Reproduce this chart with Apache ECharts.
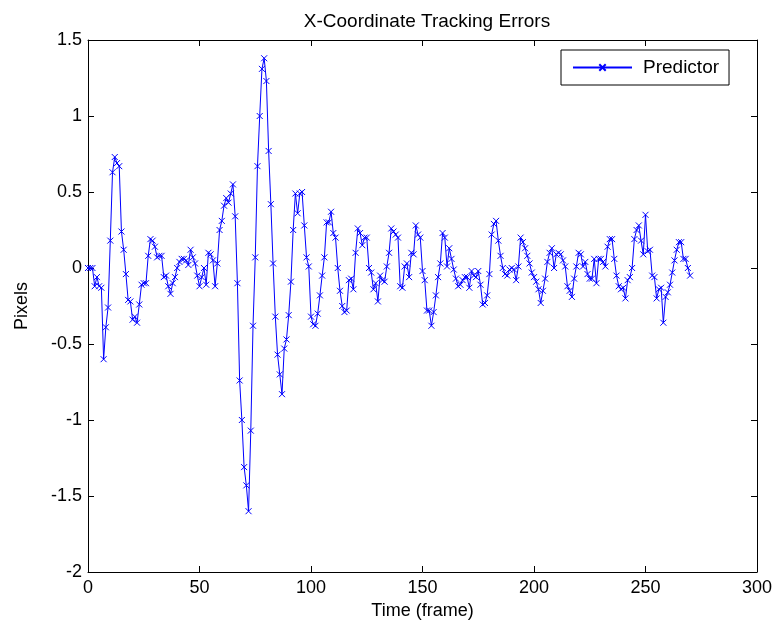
<!DOCTYPE html>
<html>
<head>
<meta charset="utf-8">
<script src="https://cdn.jsdelivr.net/npm/echarts@6/dist/echarts.min.js"></script>
<style>
html,body{margin:0;padding:0;background:#fff;}
#chart{width:781px;height:630px;}
</style>
</head>
<body>
<div id="chart"></div>
<script>
var titleText = "X-Coordinate Tracking Errors";
var xAxisName = "Time (frame)";
var yAxisName = "Pixels";
var seriesName = "Predictor";
var xTicks = [0, 50, 100, 150, 200, 250, 300];
var yTicks = [-2, -1.5, -1, -0.5, 0, 0.5, 1, 1.5];

// one value per frame, frames 0..270
var errors = [
  0, 0, 0, -0.12, -0.06, -0.12, -0.13, -0.6, -0.39, -0.26,
  0.18, 0.63, 0.73, 0.69, 0.67, 0.24, 0.12, -0.04, -0.21, -0.22,
  -0.34, -0.32, -0.36, -0.24, -0.11, -0.1, -0.1, 0.08, 0.19, 0.18,
  0.14, 0.07, 0.08, 0.08, -0.06, -0.05, -0.12, -0.17, -0.1, -0.06,
  0.0, 0.04, 0.06, 0.06, 0.05, 0.02, 0.12, 0.07, 0.03, -0.05,
  -0.12, -0.06, 0.0, -0.11, 0.1, 0.09, 0.05, -0.12, 0.03, 0.25,
  0.31, 0.41, 0.46, 0.43, 0.49, 0.55, 0.34, -0.1, -0.74, -1.0,
  -1.31, -1.43, -1.6, -1.07, -0.38, 0.07, 0.67, 1.0, 1.31, 1.38,
  1.23, 0.77, 0.42, 0.03, -0.32, -0.57, -0.7, -0.83, -0.53, -0.47,
  -0.31, -0.09, 0.25, 0.49, 0.36, 0.49, 0.5, 0.28, 0.07, 0.01,
  -0.32, -0.37, -0.38, -0.3, -0.18, -0.05, 0.07, 0.3, 0.3, 0.37,
  0.23, 0.2, 0.0, -0.15, -0.25, -0.29, -0.28, -0.08, -0.07, -0.14,
  0.1, 0.26, 0.23, 0.15, 0.2, 0.2, 0.0, -0.03, -0.14, -0.1,
  -0.22, -0.05, -0.08, -0.09, 0.01, 0.1, 0.26, 0.24, 0.22, 0.2,
  -0.12, -0.13, 0.01, 0.03, -0.06, 0.1, 0.09, 0.28, 0.22, 0.2,
  -0.02, -0.08, -0.28, -0.28, -0.38, -0.29, -0.18, -0.06, 0.03, 0.23,
  0.2, 0.01, 0.13, 0.06, -0.01, -0.07, -0.12, -0.11, -0.08, -0.06,
  -0.06, -0.13, -0.02, -0.05, -0.06, -0.02, -0.11, -0.24, -0.23, -0.18,
  -0.04, 0.22, 0.29, 0.31, 0.18, 0.08, 0.0, -0.04, -0.05, -0.01,
  0.0, -0.01, -0.08, 0.01, 0.2, 0.17, 0.13, 0.08, 0.03, -0.03,
  -0.06, -0.09, -0.14, -0.23, -0.15, -0.07, 0.04, 0.1, 0.13, 0.0,
  0.09, 0.1, 0.09, 0.05, 0.01, -0.12, -0.15, -0.19, -0.07, 0.01,
  0.1, 0.09, 0.01, 0.04, -0.04, -0.07, -0.07, 0.06, -0.1, 0.06,
  0.06, 0.04, 0.01, 0.14, 0.19, 0.19, 0.06, -0.05, -0.12, -0.14,
  -0.13, -0.2, -0.08, -0.06, 0.0, 0.19, 0.25, 0.28, 0.18, 0.09,
  0.35, 0.11, 0.12, -0.05, -0.06, -0.2, -0.14, -0.13, -0.36, -0.19,
  -0.16, -0.11, -0.03, 0.05, 0.12, 0.17, 0.17, 0.06, 0.06, 0.0,
  -0.05
];
var frames = errors.map(function (v, i) { return i; });

var seriesData = frames.map(function (f, i) { return [f, errors[i]]; });

var FONT = "'Liberation Sans', Arial, sans-serif";
var crossPath = 'path://M0,0 L10,10 M10,0 L0,10';

var chart = echarts.init(document.getElementById('chart'), null, {renderer: 'canvas'});

var axisLineStyle = {color: '#000', width: 1};
var baseX = {
  type: 'value',
  min: xTicks[0], max: xTicks[xTicks.length - 1], interval: 50,
  axisLine: {show: true, onZero: false, lineStyle: axisLineStyle},
  axisTick: {show: true, inside: true, length: 6, lineStyle: axisLineStyle},
  splitLine: {show: false}
};
var baseY = {
  type: 'value',
  min: yTicks[0], max: yTicks[yTicks.length - 1], interval: 0.5,
  axisLine: {show: true, onZero: false, lineStyle: axisLineStyle},
  axisTick: {show: true, inside: true, length: 6, lineStyle: axisLineStyle},
  splitLine: {show: false}
};

chart.setOption({
  animation: false,
  backgroundColor: '#fff',
  title: {
    text: titleText,
    left: 422, top: 7, textAlign: 'center',
    textStyle: {fontFamily: FONT, fontSize: 19, fontWeight: 'normal', color: '#000'}
  },
  legend: {
    data: [seriesName],
    left: 561, top: 50,
    padding: [8, 10, 8, 11],
    borderColor: '#000', borderWidth: 1,
    backgroundColor: '#fff',
    itemWidth: 59, itemHeight: 8,
    textStyle: {fontFamily: FONT, fontSize: 19, color: '#000', padding: [0, 0, 0, 6]}
  },
  grid: {left: 88, right: 24, top: 40, bottom: 58, containLabel: false},
  xAxis: [
    Object.assign({}, baseX, {
      position: 'bottom',
      name: xAxisName, nameLocation: 'middle', nameGap: 28,
      nameTextStyle: {fontFamily: FONT, fontSize: 18, color: '#000'},
      axisLabel: {show: true, fontFamily: FONT, fontSize: 18, color: '#000', margin: 7}
    }),
    Object.assign({}, baseX, {position: 'top', axisLabel: {show: false}})
  ],
  yAxis: [
    Object.assign({}, baseY, {
      position: 'left',
      name: yAxisName, nameLocation: 'middle', nameGap: 57, nameRotate: 90,
      nameTextStyle: {fontFamily: FONT, fontSize: 18, color: '#000'},
      axisLabel: {show: true, fontFamily: FONT, fontSize: 18, color: '#000', margin: 6}
    }),
    Object.assign({}, baseY, {position: 'right', axisLabel: {show: false}})
  ],
  series: [{
    name: seriesName,
    type: 'line',
    xAxisIndex: 0, yAxisIndex: 0,
    data: seriesData,
    symbol: crossPath,
    symbolSize: 6,
    showAllSymbol: true,
    color: '#0000ff',
    lineStyle: {color: '#0000ff', width: 1},
    itemStyle: {color: '#0000ff', borderColor: '#0000ff', borderWidth: 1},
    emphasis: {disabled: true}
  }]
});
</script>
</body>
</html>
